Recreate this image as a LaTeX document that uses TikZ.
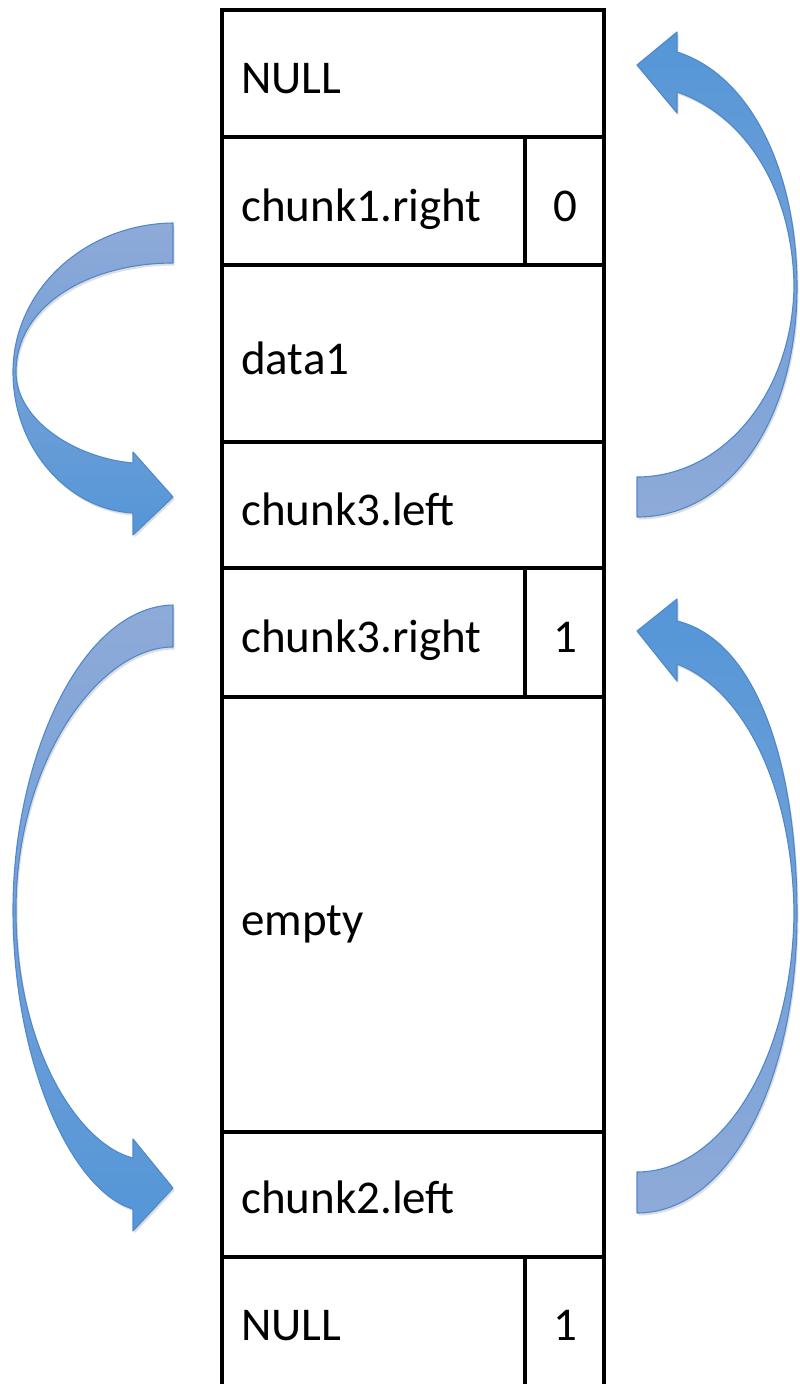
\documentclass[tikz,border=0pt]{standalone}
\usepackage{fontspec}
\setmainfont{Carlito}
\definecolor{headblue}{RGB}{84,150,215}
\definecolor{midblue}{RGB}{110,165,226}
\definecolor{tailblue}{RGB}{143,170,216}
\definecolor{edgeblue}{RGB}{80,136,204}
\begin{document}
\begin{tikzpicture}[x=1pt,y=-1pt,
  cell/.style={draw=black, line width=4pt, rectangle, inner sep=0pt, outer sep=0pt,
               anchor=north west, line join=miter},
  lbl/.style={anchor=base west, inner sep=0pt, font=\fontsize{47}{56}\selectfont},
  flag/.style={anchor=base, inner sep=0pt, font=\fontsize{47}{56}\selectfont},
  bendshadow/.style={fill=black, opacity=0.13, draw=none},
  bendleft/.style={top color=tailblue, middle color=midblue, bottom color=headblue,
                   draw=edgeblue, line width=1.1pt, line join=round},
  bendright/.style={top color=headblue, middle color=midblue, bottom color=tailblue,
                    draw=edgeblue, line width=1.1pt, line join=round}]
\useasboundingbox (0,0) rectangle (800,1384);

% ---- memory cells ----
\node[cell, minimum width=382pt, minimum height=127pt] (c1) at (222,10) {};
\node[cell, minimum width=303pt, minimum height=128pt] (c2) at (222,137) {};
\node[cell, minimum width=79pt,  minimum height=128pt] (c2b) at (525,137) {};
\node[cell, minimum width=382pt, minimum height=177pt] (c3) at (222,265) {};
\node[cell, minimum width=382pt, minimum height=126pt] (c4) at (222,442) {};
\node[cell, minimum width=303pt, minimum height=129pt] (c5) at (222,568) {};
\node[cell, minimum width=79pt,  minimum height=129pt] (c5b) at (525,568) {};
\node[cell, minimum width=382pt, minimum height=435pt] (c6) at (222,697) {};
\node[cell, minimum width=382pt, minimum height=125pt] (c7) at (222,1132) {};
\node[cell, minimum width=303pt, minimum height=131pt] (c8) at (222,1257) {};
\node[cell, minimum width=79pt,  minimum height=131pt] (c8b) at (525,1257) {};

% ---- cell texts ----
\node[lbl] (t1) at (241,93) {NULL};
\node[lbl] (t2) at (241,221) {chunk1.right};
\node[flag] (f2) at (565,221) {0};
\node[lbl] (t3) at (241,374) {data1};
\node[lbl] (t4) at (241,525) {chunk3.left};
\node[lbl] (t5) at (241,652) {chunk3.right};
\node[flag] (f5) at (565,652) {1};
\node[lbl] (t6) at (241,935) {empty};
\node[lbl] (t7) at (241,1213) {chunk2.left};
\node[lbl] (t8) at (241,1340) {NULL};
\node[flag] (f8) at (565,1340) {1};

% ---- curved block arrows ----
% chunk1.right -> chunk3.left
\def\arrowA{(173,223) .. controls (85,224) and (13,290) .. (13,372)
  .. controls (13,450) and (70,510) .. (133,513) -- (133,535) -- (173,497)
  -- (133,452) -- (133,463) .. controls (75,458) and (16,420) .. (16,372)
  .. controls (16,305) and (90,263) .. (173,263) -- cycle}
% chunk3.left -> NULL
\def\arrowB{(637,517) .. controls (730,517) and (797,420) .. (797,287)
  .. controls (797,170) and (750,75) .. (677,52) -- (677,32) -- (637,65)
  -- (677,113) -- (677,92) .. controls (745,115) and (793,190) .. (794,287)
  .. controls (792,395) and (722,477) .. (637,477) -- cycle}
% chunk3.right -> chunk2.left
\def\arrowC{(173,605) .. controls (80,607) and (13,760) .. (13,910)
  .. controls (13,1060) and (70,1190) .. (133,1209) -- (133,1231) -- (173,1188)
  -- (133,1139) -- (133,1158) .. controls (80,1145) and (16,1050) .. (16,910)
  .. controls (16,760) and (100,647) .. (173,647) -- cycle}
% chunk2.left -> chunk3.right
\def\arrowD{(637,1213) .. controls (730,1213) and (797,1080) .. (797,914)
  .. controls (797,760) and (755,640) .. (677,621) -- (677,599) -- (637,631)
  -- (677,681) -- (677,664) .. controls (745,690) and (793,790) .. (794,914)
  .. controls (792,1060) and (722,1172) .. (637,1172) -- cycle}

\begin{scope}[shift={(1.5,2.5)}]
  \fill[bendshadow] \arrowA;
  \fill[bendshadow] \arrowB;
  \fill[bendshadow] \arrowC;
  \fill[bendshadow] \arrowD;
\end{scope}
\path[bendleft] \arrowA;
\path[bendright] \arrowB;
\path[bendleft] \arrowC;
\path[bendright] \arrowD;
\end{tikzpicture}
\end{document}
